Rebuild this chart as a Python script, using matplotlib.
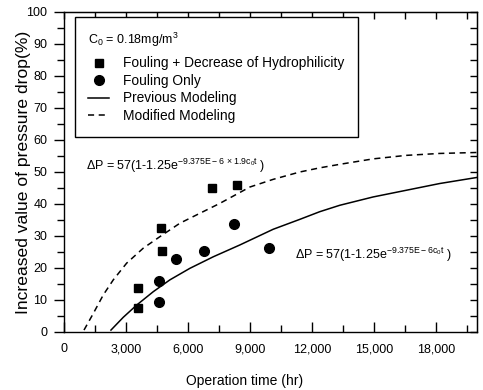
import matplotlib
matplotlib.use("Agg")
import matplotlib.pyplot as plt
from matplotlib.ticker import MultipleLocator, FuncFormatter

plt.rcParams['font.family'] = ['Liberation Sans', 'DejaVu Sans']
plt.rcParams['mathtext.fontset'] = 'custom'
plt.rcParams['mathtext.rm'] = 'Liberation Sans'
plt.rcParams['mathtext.it'] = 'Liberation Sans'
plt.rcParams['mathtext.bf'] = 'Liberation Sans:bold'

# Data
sq_t = [3600, 3570, 4700, 4730, 7190, 8390]
sq_v = [13.7, 7.4, 32.4, 25.3, 45.1, 45.9]

ci_t = [4610, 4610, 5400, 6790, 8240, 9920]
ci_v = [15.9, 9.3, 22.7, 25.3, 33.6, 26.1]

prev_t = [2274, 2871, 3516, 4323, 5129, 6097, 7226, 8516, 10129, 11419,
          12387, 13355, 14968, 16581, 18194, 20000]
prev_v = [0.6, 4.6, 8.4, 12.6, 16.3, 19.9, 23.5, 27.2, 32.1, 35.2,
          37.6, 39.6, 42.2, 44.3, 46.4, 48.3]

mod_t = [968, 1419, 1903, 2387, 3032, 3839, 4645, 5613, 6581, 7548, 8516,
         9000, 10129, 11419, 12387, 13355, 14968, 16581, 18194, 20000]
mod_v = [0.6, 5.8, 11.6, 16.3, 21.5, 26.2, 29.8, 34.0, 37.1, 40.2, 43.6,
         45.3, 47.7, 50.0, 51.3, 52.4, 54.1, 55.2, 55.8, 56.1]

labels = ['Fouling + Decrease of Hydrophilicity', 'Fouling Only',
          'Previous Modeling', 'Modified Modeling']
legend_title = 'C$_0$ = 0.18mg/m$^3$'
eq_mod = r'$\Delta$P = 57(1-1.25e$^{\mathrm{-9.375E-6\ \times 1.9c_0t}}$ )'
eq_prev = r'$\Delta$P = 57(1-1.25e$^{\mathrm{-9.375E-6c_0t}}$ )'

fig = plt.figure(figsize=(4.83, 3.90), dpi=100)
ax = fig.add_axes([64/483, 58/390, 413/483, 320/390])

ax.plot(sq_t, sq_v, linestyle='none', marker='s', color='black', markersize=5.2, label=labels[0])
ax.plot(ci_t, ci_v, linestyle='none', marker='o', color='black', markersize=7, label=labels[1])
ax.plot(prev_t, prev_v, color='black', linewidth=1.1, label=labels[2])
ax.plot(mod_t, mod_v, color='black', linewidth=1.1, dashes=(4, 3), label=labels[3])

ax.set_xlim(0, 20000)
ax.set_ylim(0, 100)

ax.xaxis.set_major_locator(MultipleLocator(3000))
ax.xaxis.set_minor_locator(MultipleLocator(1500))
ax.yaxis.set_major_locator(MultipleLocator(10))
ax.yaxis.set_minor_locator(MultipleLocator(5))
ax.xaxis.set_major_formatter(FuncFormatter(lambda v, p: f'{int(v):,}'))

ax.tick_params(axis='x', which='major', direction='in', length=7, width=1, labelsize=9, pad=8)
ax.tick_params(axis='x', which='minor', direction='in', length=5, width=1)
ax.tick_params(axis='y', which='major', direction='out', length=7, width=1, labelsize=9, pad=5)
ax.tick_params(axis='y', which='minor', direction='out', length=5, width=1)

for s in ax.spines.values():
    s.set_linewidth(1.0)

top = ax.secondary_xaxis('top')
top.xaxis.set_major_locator(MultipleLocator(1500))
top.tick_params(axis='x', which='major', direction='in', length=5, width=1, labeltop=False)
top.xaxis.set_minor_locator(MultipleLocator(100000))
right = ax.secondary_yaxis('right')
right.yaxis.set_major_locator(MultipleLocator(5))
right.tick_params(axis='y', which='major', direction='in', length=5, width=1, labelright=False)
right.yaxis.set_minor_locator(MultipleLocator(1000))

ax.set_xlabel('Operation time (hr)', fontsize=10, va='center')
ax.xaxis.set_label_coords(0.438, -0.152)
ax.set_ylabel('Increased value of pressure drop(%)', fontsize=12.6, va='center')
ax.yaxis.set_label_coords(-0.097, 0.5)

leg = ax.legend(loc='upper left', bbox_to_anchor=(0.026, 0.983), title=legend_title,
                alignment='left', fontsize=9.9, title_fontsize=9, frameon=True, fancybox=False,
                edgecolor='black', framealpha=1, borderpad=1.0, labelspacing=0.26,
                handlelength=1.5, handletextpad=1.0, borderaxespad=0)
leg.get_frame().set_linewidth(1.0)
leg._legend_box.sep = 5

ax.text(1050, 52.0, eq_mod, fontsize=9, va='center', ha='left')
ax.text(11200, 24.0, eq_prev, fontsize=9, va='center', ha='left')

fig.savefig('out.png', dpi=100)
